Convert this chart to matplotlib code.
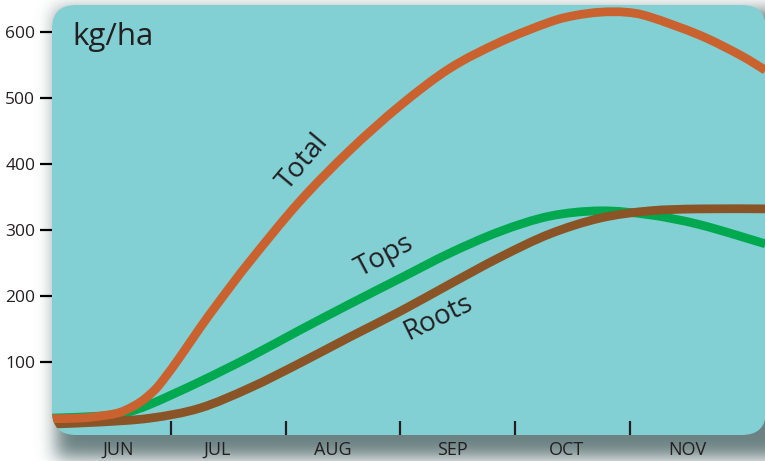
import numpy as np
import matplotlib
matplotlib.use("Agg")
import matplotlib.pyplot as plt
from matplotlib.patches import FancyBboxPatch, PathPatch
from matplotlib.path import Path

plt.rcParams['font.family'] = ['Open Sans', 'DejaVu Sans']

# ---- data (x = months after 1 June; separators at month boundaries) ----
x_total = [-0.04, 0.21, 0.38, 0.56, 0.73, 0.86, 0.95, 1.08, 1.25, 1.43, 1.69,
           2.12, 2.56, 3.00, 3.43, 3.87, 4.30, 4.52, 4.74, 4.96, 5.17, 5.61, 5.96, 6.18]
y_total = [14, 15, 18, 24, 39, 58, 77, 108, 151, 194, 253,
           343, 421, 489, 545, 585, 615, 625, 630, 630, 623, 595, 565, 542]

x_tops = [-0.04, 0.38, 0.60, 0.82, 1.25, 1.69, 2.12, 2.56, 3.00, 3.43, 3.87, 4.30,
          4.74, 5.17, 5.61, 6.18]
y_tops = [15, 18, 23, 36, 70, 108, 148, 188, 227, 265, 298, 321,
          329, 323, 308, 279]

x_roots = [-0.04, 0.38, 0.82, 1.25, 1.69, 2.12, 2.56, 3.00, 3.43, 3.87, 4.30,
           4.74, 5.17, 5.61, 6.18]
y_roots = [6, 9, 15, 30, 61, 98, 138, 177, 218, 259, 294,
           318, 329, 332, 332]

months = ['JUN', 'JUL', 'AUG', 'SEP', 'OCT', 'NOV']
month_label_pos = [0.54, 1.40, 2.41, 3.45, 4.45, 5.50]
month_bounds = [1, 2, 3, 4, 5]
yticks = [100, 200, 300, 400, 500, 600]
ytick_colors = ['#1a5faa', '#1a5faa', '#1a5faa', '#231f20', '#231f20', '#231f20']

C_BG = '#82d0d4'
C_TOTAL = '#c9622f'
C_TOPS = '#00a84f'
C_ROOTS = '#8a5426'
C_TEXT = '#231f20'

W, H = 765, 461
fig = plt.figure(figsize=(W / 100, H / 100), dpi=100)
fig.patch.set_facecolor('white')

axb = fig.add_axes([0, 0, 1, 1])
axb.axis('off')
axb.set_zorder(0)

def blurred_step(n, a, b, sigma):
    idx = np.arange(n, dtype=float)
    step = ((idx >= a) & (idx <= b)).astype(float)
    k = np.arange(-4 * sigma, 4 * sigma + 1)
    g = np.exp(-0.5 * (k / sigma) ** 2)
    g /= g.sum()
    pad = len(k)
    s = np.pad(step, pad, mode='edge')
    return np.convolve(s, g, mode='same')[pad:-pad]

fx = blurred_step(W, 56, W + 60, 9)
fy = blurred_step(H, 10, 457, 9)
alpha = np.outer(fy, fx) * 0.85
img = np.zeros((H, W, 4))
img[..., 0] = 0x50 / 255
img[..., 1] = 0x6a / 255
img[..., 2] = 0x6b / 255
img[..., 3] = alpha
axb.imshow(img, extent=(0, W, 0, H), origin='upper', zorder=0, interpolation='bilinear')
axb.set_xlim(0, W)
axb.set_ylim(0, H)

panel = FancyBboxPatch((52, H - 435), 766 - 52, 435 - 5,
                       boxstyle='round,pad=0,rounding_size=24',
                       facecolor=C_BG, edgecolor='none', zorder=1)
axb.add_patch(panel)

px0, px1, py_top, py_bot = 52, 765, 5, 435
ax = fig.add_axes([px0 / W, (H - py_bot) / H, (px1 - px0) / W, (py_bot - py_top) / H])
ax.set_zorder(1)
ax.patch.set_visible(False)
ax.set_xlim((px0 - 56.25) / 114.75, (px1 - 56.25) / 114.75)
ax.set_ylim((428 - py_bot) / 0.66, (428 - py_top) / 0.66)
for s in ax.spines.values():
    s.set_visible(False)

def smooth_path(xs, ys):
    """Catmull-Rom curve through the data points, as cubic Bezier segments."""
    P = np.column_stack([xs, ys]).astype(float)
    n = len(P)
    verts = [P[0]]
    codes = [Path.MOVETO]
    for i in range(n - 1):
        p0 = P[i - 1] if i > 0 else P[i]
        p1 = P[i]
        p2 = P[i + 1]
        p3 = P[i + 2] if i + 2 < n else P[i + 1]
        c1 = p1 + (p2 - p0) / 6.0
        c2 = p2 - (p3 - p1) / 6.0
        verts += [c1, c2, p2]
        codes += [Path.CURVE4] * 3
    return Path(np.array(verts), codes)

lw = 6.3
for xs, ys, col, z in ((x_tops, y_tops, C_TOPS, 3),
                       (x_roots, y_roots, C_ROOTS, 4),
                       (x_total, y_total, C_TOTAL, 5)):
    pp = PathPatch(smooth_path(xs, ys), facecolor='none', edgecolor=col, lw=lw,
                   capstyle='butt', joinstyle='round', transform=ax.transData, zorder=z)
    ax.add_patch(pp)
    pp.set_clip_path(panel)

ax.set_yticks(yticks)
ax.set_yticklabels([str(v) for v in yticks], fontsize=12.5, color=C_TEXT)
ax.tick_params(axis='y', direction='out', length=9, width=1.6, pad=3)
for t, c in zip(ax.yaxis.get_major_ticks(), ytick_colors):
    t.tick1line.set_color(c)

ax.set_xticks(month_bounds)
ax.set_xticklabels([])
ax.tick_params(axis='x', which='major', direction='in', length=10, width=1.6, color=C_TEXT)
ax.set_xticks(month_label_pos, minor=True)
ax.set_xticklabels(months, minor=True, fontsize=13, color=C_TEXT)
ax.tick_params(axis='x', which='minor', length=0, pad=4)

ax.text(0.028, 0.96, 'kg/ha', transform=ax.transAxes, fontsize=22.5, color=C_TEXT,
        ha='left', va='top')
ax.text(2.15, 403, 'Total', fontsize=20, color=C_TEXT, rotation=50,
        ha='center', va='center', rotation_mode='anchor')
ax.text(2.86, 260, 'Tops', fontsize=20, color=C_TEXT, rotation=28,
        ha='center', va='center', rotation_mode='anchor')
ax.text(3.33, 167, 'Roots', fontsize=20, color=C_TEXT, rotation=26,
        ha='center', va='center', rotation_mode='anchor')

fig.savefig('out.png', dpi=100)
